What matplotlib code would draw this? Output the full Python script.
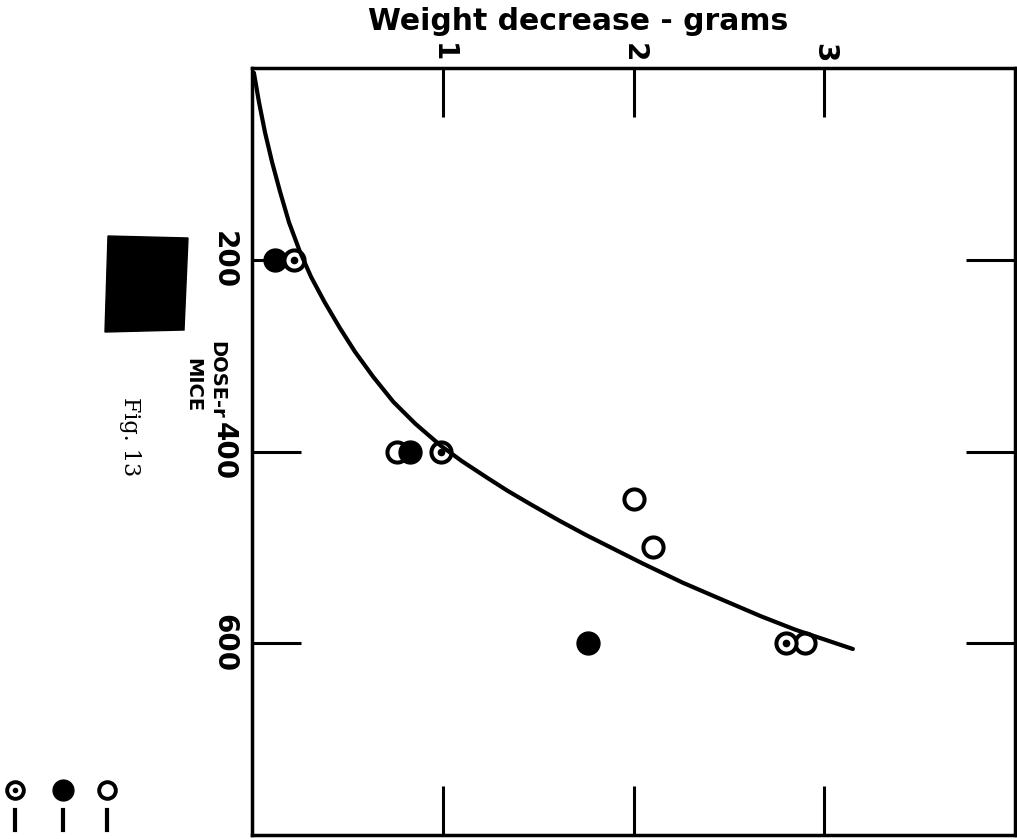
import numpy as np
import matplotlib.pyplot as plt
from matplotlib.patches import Polygon

# curve: (weight decrease g, dose r)
curve_w = [0.01, 0.037, 0.068, 0.105, 0.147, 0.194, 0.252, 0.31, 0.38, 0.46, 0.54, 0.635,
           0.74, 0.856, 0.99, 1.10, 1.23, 1.34, 1.46, 1.61, 1.75, 1.90, 2.05, 2.26,
           2.47, 2.67, 2.85, 3.0, 3.15]
curve_d = [5, 36, 67, 98, 129, 161, 192, 218, 244, 271, 296, 322,
           348, 371, 394, 410, 427, 441, 455, 472, 487, 502, 517, 537,
           555, 572, 586, 596, 606]

open_w = [0.76, 2.0, 2.1, 2.9]
open_d = [400, 450, 500, 600]
filled_w = [0.12, 0.83, 1.76]
filled_d = [200, 400, 600]
dotted_w = [0.22, 0.99, 2.8]
dotted_d = [200, 400, 600]

w_ticks = [1, 2, 3]
d_ticks = [200, 400, 600]

fig = plt.figure(figsize=(10.17, 8.39), dpi=100)
ax = fig.add_axes([252/1017, 4/839, 763/1017, 767/839])
ax.set_xlim(0, 4)
ax.set_ylim(800, 0)

ms = 14.5
mew = 2.9
ax.plot(open_w, open_d, 'o', ms=ms, mfc='white', mec='black', mew=mew, ls='none', zorder=3)
ax.plot(filled_w, filled_d, 'o', ms=ms + 2, mfc='black', mec='black', mew=1, ls='none', zorder=4)
ax.plot(dotted_w, dotted_d, 'o', ms=ms, mfc='white', mec='black', mew=mew, ls='none', zorder=5)
ax.plot(dotted_w, dotted_d, 'o', ms=4.5, mfc='black', mec='black', ls='none', zorder=6)
ax.plot(curve_w, curve_d, color='black', lw=3, zorder=7,
        solid_joinstyle='round', solid_capstyle='round')

for s in ax.spines.values():
    s.set_linewidth(2.5)

ax.set_xticks(w_ticks)
ax.set_yticks(d_ticks)
ax.tick_params(which='both', direction='in', length=35, width=2.2,
               top=True, bottom=True, left=True, right=True,
               labelbottom=False, labeltop=True, labelleft=True, labelright=False)
ax.tick_params(axis='x', labelsize=20, pad=4)
ax.tick_params(axis='y', labelsize=20, pad=10)
for lab in ax.get_xticklabels() + ax.get_yticklabels():
    lab.set_rotation(-90)
    lab.set_fontweight('bold')
for lab in ax.get_yticklabels():
    lab.set_va('center')

fig.text(578/1017, 1 - 22/839, 'Weight decrease - grams', ha='center', va='center',
         fontsize=21.5, fontweight='bold')
fig.text(217/1017, 1 - 380/839, 'DOSE-r', ha='center', va='center', rotation=-90,
         fontsize=14, fontweight='bold')
fig.text(193/1017, 1 - 385/839, 'MICE', ha='center', va='center', rotation=-90,
         fontsize=14, fontweight='bold')
fig.text(130/1017, 1 - 437/839, 'Fig. 13', ha='center', va='center', rotation=-90,
         fontsize=16, family='DejaVu Serif')

# redaction blob
blob = [(108/1017, 1 - 236/839), (188/1017, 1 - 238/839), (184/1017, 1 - 330/839),
        (105/1017, 1 - 332/839)]
fig.patches.append(Polygon(blob, closed=True, transform=fig.transFigure,
                           facecolor='black', edgecolor='black'))

# legend remnants at lower left
leg_x = [15/1017, 63/1017, 107/1017]
fig.lines.append(plt.Line2D([leg_x[0]], [1 - 790/839], marker='o', ms=12, mfc='white',
                            mec='black', mew=2.8, transform=fig.transFigure))
fig.lines.append(plt.Line2D([leg_x[0]], [1 - 790/839], marker='o', ms=3, mfc='black',
                            mec='black', transform=fig.transFigure))
fig.lines.append(plt.Line2D([leg_x[1]], [1 - 790/839], marker='o', ms=15, mfc='black',
                            mec='black', transform=fig.transFigure))
fig.lines.append(plt.Line2D([leg_x[2]], [1 - 790/839], marker='o', ms=12, mfc='white',
                            mec='black', mew=2.8, transform=fig.transFigure))
for x in leg_x:
    fig.lines.append(plt.Line2D([x, x], [1 - 810/839, 1 - 830/839], color='black',
                                lw=3, transform=fig.transFigure))

fig.savefig('out.png', dpi=100)
